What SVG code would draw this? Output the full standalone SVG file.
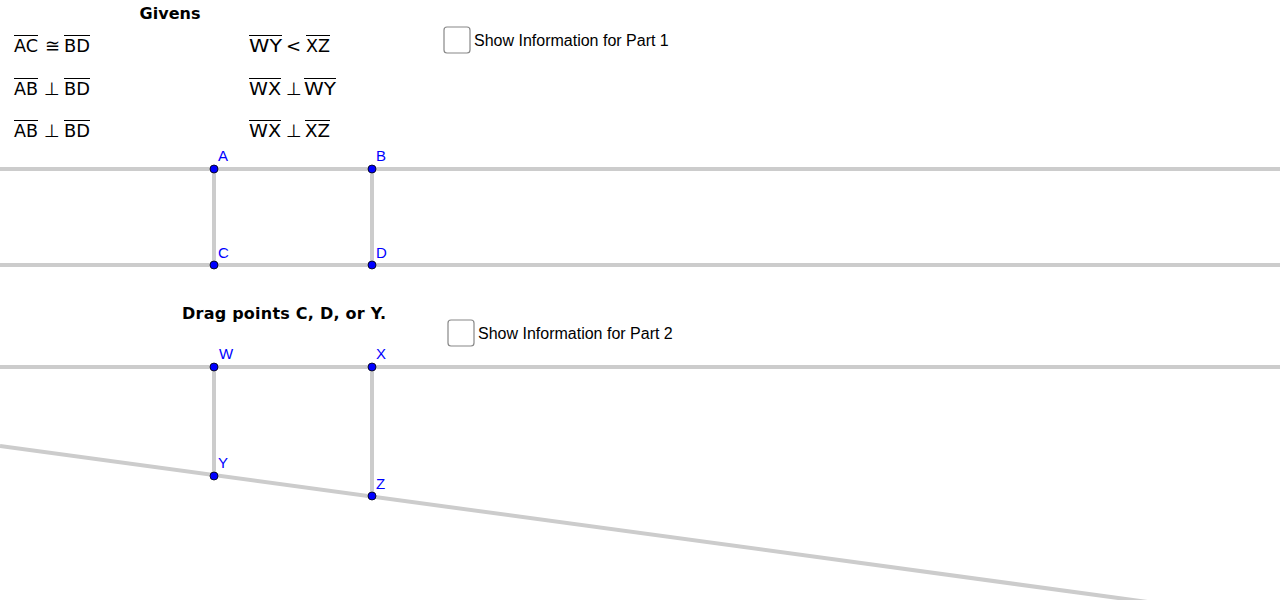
<svg xmlns="http://www.w3.org/2000/svg" width="1280" height="600" viewBox="0 0 1280 600">
<style>
.ln{stroke:#cccccc;stroke-width:4;fill:none}
.pt{fill:#0000ff;stroke:#000;stroke-width:0.8}
.lb{font-family:"Liberation Sans",Arial,sans-serif;font-size:15px;fill:#0000ff}
.g{font-family:"DejaVu Sans","Liberation Sans",sans-serif;font-size:18px;fill:#000}
.ov{stroke:#000;stroke-width:1}
.cb{fill:#fff;stroke:#888;stroke-width:1.2}
.ct{font-family:"Liberation Sans",Arial,sans-serif;font-size:16px;fill:#000}
.b{font-family:"DejaVu Sans","Liberation Sans",sans-serif;font-size:16px;font-weight:bold;fill:#000}
</style>
<rect width="1280" height="600" fill="#fff"/>
<g id="connectors">
<line class="ln" x1="0" y1="169" x2="1280" y2="169"/>
<line class="ln" x1="0" y1="265" x2="1280" y2="265"/>
<line class="ln" x1="214" y1="169" x2="214" y2="265"/>
<line class="ln" x1="372" y1="169" x2="372" y2="265"/>
<line class="ln" x1="0" y1="367" x2="1280" y2="367"/>
<line class="ln" x1="0" y1="446" x2="1280" y2="620"/>
<line class="ln" x1="214" y1="367" x2="214" y2="476"/>
<line class="ln" x1="372" y1="367" x2="372" y2="496"/>
</g>
<g id="givens">
<text class="b" x="170" y="19" text-anchor="middle">Givens</text>
<text class="g" x="14" y="52" textLength="24" lengthAdjust="spacingAndGlyphs">AC</text><text class="g" x="45" y="52">≅</text><text class="g" x="64" y="52" textLength="26" lengthAdjust="spacingAndGlyphs">BD</text>
<line class="ov" x1="14" y1="35.5" x2="38" y2="35.5"/><line class="ov" x1="64" y1="35.5" x2="90" y2="35.5"/>
<text class="g" x="14" y="95" textLength="24" lengthAdjust="spacingAndGlyphs">AB</text><text class="g" x="44" y="95">⊥</text><text class="g" x="64" y="95" textLength="26" lengthAdjust="spacingAndGlyphs">BD</text>
<line class="ov" x1="14" y1="78.5" x2="38" y2="78.5"/><line class="ov" x1="64" y1="78.5" x2="90" y2="78.5"/>
<text class="g" x="14" y="137" textLength="24" lengthAdjust="spacingAndGlyphs">AB</text><text class="g" x="44" y="137">⊥</text><text class="g" x="64" y="137" textLength="26" lengthAdjust="spacingAndGlyphs">BD</text>
<line class="ov" x1="14" y1="120.5" x2="38" y2="120.5"/><line class="ov" x1="64" y1="120.5" x2="90" y2="120.5"/>
<text class="g" x="249" y="52" textLength="33" lengthAdjust="spacingAndGlyphs">WY</text><text class="g" x="286" y="52">&lt;</text><text class="g" x="306" y="52" textLength="24" lengthAdjust="spacingAndGlyphs">XZ</text>
<line class="ov" x1="249" y1="35.5" x2="282" y2="35.5"/><line class="ov" x1="306" y1="35.5" x2="330" y2="35.5"/>
<text class="g" x="249" y="95" textLength="32" lengthAdjust="spacingAndGlyphs">WX</text><text class="g" x="286" y="95">⊥</text><text class="g" x="304" y="95" textLength="32" lengthAdjust="spacingAndGlyphs">WY</text>
<line class="ov" x1="249" y1="78.5" x2="281" y2="78.5"/><line class="ov" x1="304" y1="78.5" x2="336" y2="78.5"/>
<text class="g" x="249" y="137" textLength="32" lengthAdjust="spacingAndGlyphs">WX</text><text class="g" x="286" y="137">⊥</text><text class="g" x="305" y="137" textLength="25" lengthAdjust="spacingAndGlyphs">XZ</text>
<line class="ov" x1="249" y1="120.5" x2="281" y2="120.5"/><line class="ov" x1="305" y1="120.5" x2="330" y2="120.5"/>
</g>
<g id="cb1"><rect class="cb" x="444" y="27" width="26" height="26" rx="3"/><text class="ct" x="474" y="46">Show Information for Part 1</text></g>
<g id="cb2"><rect class="cb" x="448" y="320" width="26" height="26" rx="3"/><text class="ct" x="478" y="339">Show Information for Part 2</text></g>
<text id="drag" class="b" x="182" y="319" textLength="204" lengthAdjust="spacing">Drag points C, D, or Y.</text>
<g id="A"><circle class="pt" cx="214" cy="169" r="4"/><text class="lb" x="218" y="161">A</text></g>
<g id="B"><circle class="pt" cx="372" cy="169" r="4"/><text class="lb" x="376" y="161">B</text></g>
<g id="C"><circle class="pt" cx="214" cy="265" r="4"/><text class="lb" x="218" y="258">C</text></g>
<g id="D"><circle class="pt" cx="372" cy="265" r="4"/><text class="lb" x="376" y="258">D</text></g>
<g id="W"><circle class="pt" cx="214" cy="367" r="4"/><text class="lb" x="219" y="359">W</text></g>
<g id="X"><circle class="pt" cx="372" cy="367" r="4"/><text class="lb" x="376" y="359">X</text></g>
<g id="Y"><circle class="pt" cx="214" cy="476" r="4"/><text class="lb" x="218" y="468">Y</text></g>
<g id="Z"><circle class="pt" cx="372" cy="496" r="4"/><text class="lb" x="376" y="489">Z</text></g>
</svg>
